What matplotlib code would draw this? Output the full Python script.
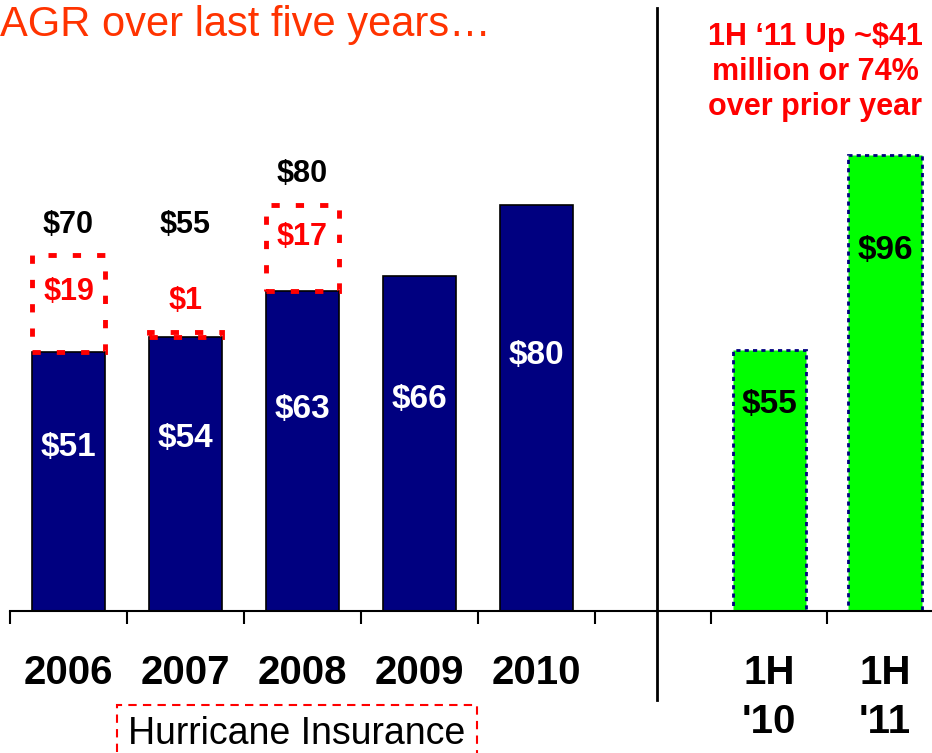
import matplotlib.pyplot as plt
from matplotlib.lines import Line2D

plt.rcParams['font.family'] = ['Liberation Sans', 'DejaVu Sans']

years = ['2006', '2007', '2008', '2009', '2010']
base = [51, 54, 63, 66, 80]
hurricane = [19, 1, 17, 0, 0]
totals = [70, 55, 80, 0, 0]
half_labels = ["1H\n'10", "1H\n'11"]
half_values = [55, 96]

NAVY = '#000080'
GREEN = '#00FF00'
RED = '#FF0000'

W, H = 932, 753
fig = plt.figure(figsize=(W / 100, H / 100), dpi=100)
ax = fig.add_axes([10 / W, 142 / H, 647 / W, 611 / H])
ax2 = fig.add_axes([657 / W, 142 / H, 275 / W, 611 / H])

# yearly bars
x = list(range(len(years)))
ax.bar(x, base, width=0.63, color=NAVY, edgecolor='black', linewidth=1.2, zorder=2)
for i in x:
    if hurricane[i]:
        ax.bar(i, hurricane[i], bottom=base[i], width=0.63, fill=False,
               edgecolor=RED, linewidth=3.5, linestyle=(0, (1.7, 3.3)), zorder=3)
        ax.text(i, base[i] + max(hurricane[i] * 0.62, 7), f'${hurricane[i]}',
                color=RED, ha='center', va='center', fontsize=22, fontweight='bold')
    if totals[i]:
        ax.text(i, max(totals[i], totals[0]) + 6, f'${totals[i]}',
                color='black', ha='center', va='center', fontsize=22, fontweight='bold')
    ax.text(i, base[i] * 0.63, f'${base[i]}', color='white', ha='center',
            va='center', fontsize=24, fontweight='bold', zorder=4)

ax.set_xlim(-0.5, 5.03)
ax.set_ylim(0, 120.3)

# half-year bars
hx = list(range(len(half_values)))
ax2.bar(hx, half_values, width=0.63, color=GREEN, edgecolor=NAVY, linewidth=2,
        linestyle=(0, (1.5, 1.5)), zorder=2)
for i in hx:
    ax2.text(i, half_values[i] * 0.79, f'${half_values[i]}', color='black',
             ha='center', va='center', fontsize=24, fontweight='bold', zorder=4)
ax2.set_xlim(-0.966, 1.405)
ax2.set_ylim(0, 128.6)

for a in (ax, ax2):
    for s in ('top', 'left', 'right'):
        a.spines[s].set_visible(False)
    a.spines['bottom'].set_linewidth(1.5)
    a.set_yticks([])
    a.patch.set_alpha(0)
    a.tick_params(axis='x', which='major', length=9, width=1.5, direction='out', labelbottom=False)
    a.tick_params(axis='x', which='minor', length=0, pad=31)

ax.set_xticks([i - 0.5 for i in range(len(years) + 1)])
ax.set_xticks(x, minor=True)
ax.set_xticklabels(years, minor=True, fontsize=29, fontweight='bold')

ax2.set_xticks([-0.5, 0.5])
ax2.set_xticks(hx, minor=True)
ax2.set_xticklabels(half_labels, minor=True, fontsize=29, fontweight='bold', linespacing=1.35)

# separator
fig.add_artist(Line2D([657 / W, 657 / W], [1 - 8 / H, 1 - 700 / H], color='black', linewidth=2))

fig.text(0, 1 - 25 / H, 'AGR over last five years…', color='#FF3300',
         fontsize=30, ha='left', va='center')
fig.text(815 / W, 1 - 72 / H, '1H ‘11 Up ~$41\nmillion or 74%\nover prior year',
         color=RED, fontsize=22, fontweight='bold', ha='center', va='center', linespacing=1.2)
fig.text(297 / W, 1 - 734 / H, 'Hurricane Insurance', color='black', fontsize=27,
         ha='center', va='center',
         bbox=dict(boxstyle='square,pad=0.3', fc='white', ec=RED, lw=1.5, ls=(0, (4, 3))))

fig.savefig('out.png', dpi=100)
